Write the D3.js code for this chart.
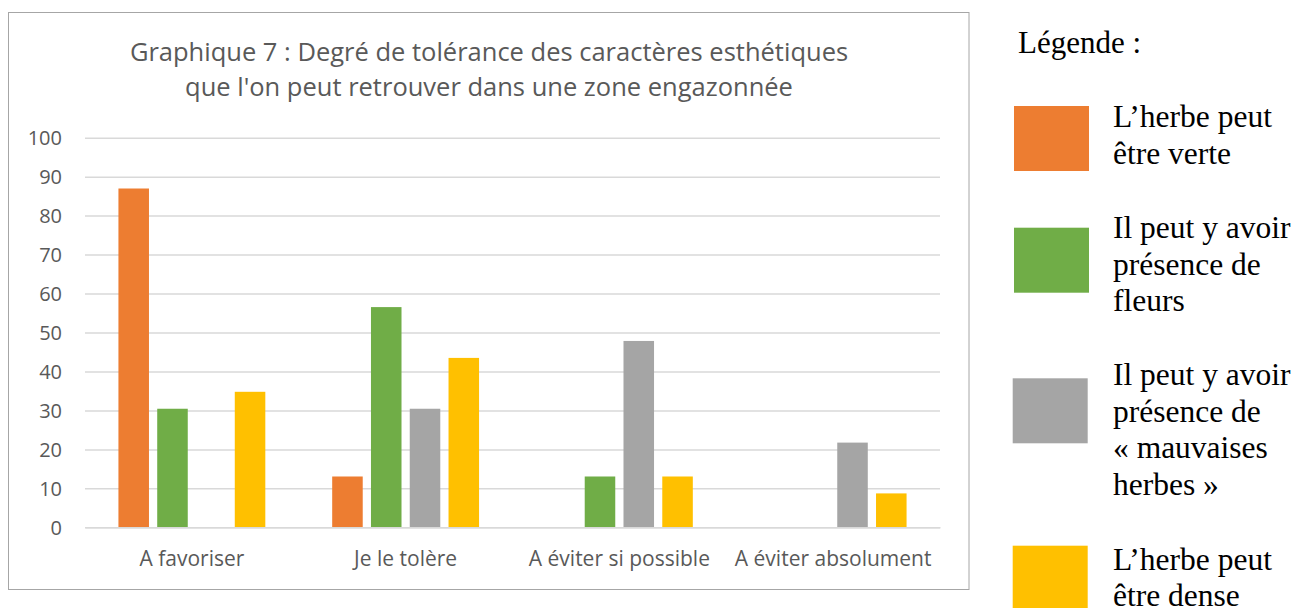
<!DOCTYPE html>
<html><head><meta charset="utf-8">
<script src="https://cdn.jsdelivr.net/npm/d3@7/dist/d3.min.js"></script>
<style>body{margin:0;background:#fff}svg{display:block}</style>
</head><body>
<svg id="c" width="1297" height="608"></svg>
<script>
const categories = ["A favoriser", "Je le tolère", "A éviter si possible", "A éviter absolument"];
const seriesNames = ["L’herbe peut être verte", "Il peut y avoir présence de fleurs", "Il peut y avoir présence de « mauvaises herbes »", "L’herbe peut être dense"];
const herbeVerte = [86.96, 13.04, 0, 0];
const fleurs = [30.43, 56.52, 13.04, 0];
const mauvaisesHerbes = [0, 30.43, 47.83, 21.74];
const herbeDense = [34.78, 43.48, 13.04, 8.70];
const colors = ["#ED7D31", "#70AD47", "#A5A5A5", "#FFC000"];
const yTicks = [0, 10, 20, 30, 40, 50, 60, 70, 80, 90, 100];
const titleLines = ["Graphique 7 : Degré de tolérance des caractères esthétiques", "que l'on peut retrouver dans une zone engazonnée"];
const legendLines = [["L’herbe peut", "être verte"], ["Il peut y avoir", "présence de", "fleurs"], ["Il peut y avoir", "présence de", "« mauvaises", "herbes »"], ["L’herbe peut", "être dense"]];

const allSeries = [herbeVerte, fleurs, mauvaisesHerbes, herbeDense];
const svg = d3.select("#c");

// chart frame
svg.append("rect").attr("x", 8.5).attr("y", 12.5).attr("width", 960.5).attr("height", 577)
  .attr("fill", "#fff").attr("stroke", "#a6a6a6").attr("stroke-width", 1);

const plot = {left: 85, right: 940, top: 137.7, bottom: 527.3};
const y = d3.scaleLinear().domain([0, 100]).range([plot.bottom, plot.top]);
const x0 = d3.scaleBand().domain(categories).range([plot.left, plot.right])
  .paddingInner(2.19 / 7).paddingOuter(2.19 / 14);
const x1 = d3.scaleBand().domain(d3.range(4)).range([0, x0.bandwidth()]).paddingInner(0.27 / 1.27);

// gridlines
const yAxis = d3.axisLeft(y).tickValues(yTicks).tickSize(-(plot.right - plot.left)).tickPadding(23).tickFormat(d3.format("d"));
const ga = svg.append("g").attr("transform", `translate(${plot.left},0)`).call(yAxis);
ga.select(".domain").remove();
ga.selectAll(".tick line").attr("stroke", "#d9d9d9").attr("stroke-width", 1.5);
ga.selectAll(".tick text").attr("fill", "#595959").attr("font-family", "'Open Sans'").attr("font-size", 20).attr("dy", "0.35em");

// bars
const groups = svg.append("g").selectAll("g").data(categories).join("g")
  .attr("transform", d => `translate(${x0(d)},0)`);
groups.selectAll("rect").data((c, i) => allSeries.map((s, k) => ({k, v: s[i]})).filter(d => d.v > 0)).join("rect")
  .attr("x", d => x1(d.k)).attr("width", x1.bandwidth())
  .attr("y", d => y(d.v)).attr("height", d => y(0) - y(d.v))
  .attr("fill", d => colors[d.k]);

// x axis
const xAxis = d3.axisBottom(x0).tickSize(0);
const gx = svg.append("g").attr("transform", `translate(0,${plot.bottom})`).call(xAxis);
gx.select(".domain").attr("stroke", "#d9d9d9").attr("stroke-width", 1.5);
gx.selectAll(".tick text").attr("fill", "#595959").attr("font-family", "'Open Sans'").attr("font-size", 21)
  .attr("y", 38.4).attr("dy", 0);

// title
svg.append("g").selectAll("text").data(titleLines).join("text")
  .attr("x", 489).attr("y", (d, i) => 60.7 + i * 35)
  .attr("text-anchor", "middle").attr("fill", "#595959")
  .attr("font-family", "'Open Sans'").attr("font-size", 25.5).text(d => d);

// legend
const lg = svg.append("g").attr("font-family", "'Liberation Serif', 'Times New Roman', serif").attr("fill", "#000");
lg.append("text").attr("x", 1018).attr("y", 53.3).attr("font-size", 31).text("Légende :");
const swatchTops = [106, 227.7, 378.3, 545.7];
const swatchX = [1014, 1014, 1012.7, 1012.7];
const textFirst = [127.3, 238.3, 385.2, 569.7];
seriesNames.forEach((n, k) => {
  lg.append("rect").attr("x", swatchX[k]).attr("y", swatchTops[k]).attr("width", 75).attr("height", 65).attr("fill", colors[k]);
  lg.append("g").selectAll("text").data(legendLines[k]).join("text")
    .attr("x", 1113).attr("y", (d, i) => textFirst[k] + i * 36.5)
    .attr("font-size", 31.5).text(d => d);
});
</script>
</body></html>
